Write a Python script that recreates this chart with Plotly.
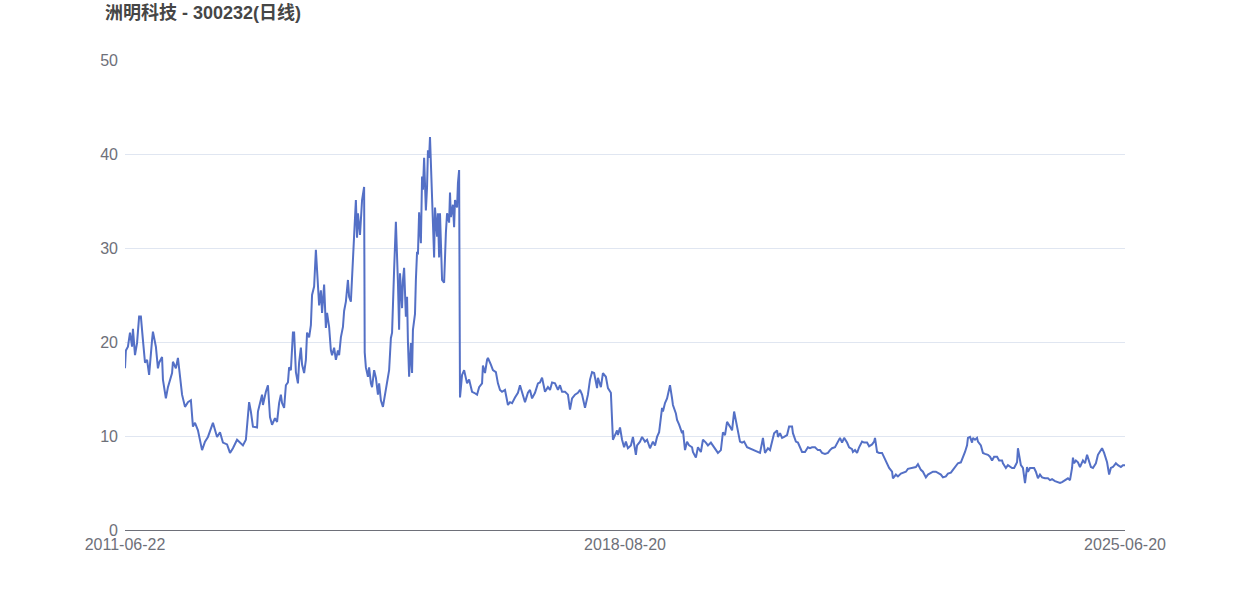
import plotly.graph_objects as go

title_text = "洲明科技 - 300232(日线)"
tick_dates = ["2011-06-22", "2018-08-20", "2025-06-20"]
tick_days = [0, 1700, 3400]

day_index = [
    0, 3, 10, 17, 24, 27, 34, 41, 48, 54, 61, 68, 75, 82, 92, 95, 105, 112, 116, 126,
    129, 139, 146, 160, 163, 173, 180, 187, 194, 204, 214, 224, 231, 238, 248, 262, 272, 282, 299, 313,
    323, 333, 347, 357, 367, 381, 391, 401, 411, 418, 422, 428, 435, 449, 452, 466, 469, 479, 486, 493,
    500, 510, 517, 524, 530, 534, 541, 547, 554, 558, 564, 571, 575, 581, 588, 592, 598, 602, 609, 615,
    619, 626, 632, 636, 643, 649, 653, 660, 666, 670, 677, 683, 687, 694, 700, 704, 711, 717, 724, 728,
    734, 741, 745, 751, 758, 762, 768, 775, 785, 789, 792, 799, 802, 806, 813, 815, 819, 826, 830, 836,
    840, 847, 853, 860, 864, 870, 877, 881, 887, 894, 898, 904, 908, 915, 918, 921, 928, 932, 935, 942,
    945, 949, 955, 959, 962, 966, 972, 976, 979, 986, 989, 993, 996, 1000, 1006, 1010, 1013, 1017, 1023, 1027,
    1030, 1034, 1037, 1040, 1044, 1047, 1051, 1054, 1061, 1064, 1068, 1071, 1074, 1078, 1085, 1088, 1091, 1095, 1102, 1105,
    1108, 1115, 1119, 1122, 1129, 1132, 1136, 1139, 1146, 1153, 1163, 1170, 1180, 1187, 1197, 1204, 1214, 1217, 1224, 1231,
    1234, 1244, 1251, 1261, 1268, 1275, 1282, 1292, 1302, 1309, 1316, 1326, 1336, 1343, 1350, 1360, 1370, 1377, 1384, 1394,
    1404, 1411, 1418, 1428, 1438, 1445, 1452, 1462, 1472, 1479, 1486, 1496, 1506, 1513, 1520, 1530, 1540, 1547, 1554, 1564,
    1574, 1581, 1588, 1595, 1605, 1608, 1618, 1625, 1635, 1642, 1652, 1656, 1659, 1666, 1673, 1676, 1683, 1690, 1697, 1703,
    1710, 1720, 1727, 1737, 1741, 1751, 1758, 1768, 1775, 1785, 1795, 1802, 1809, 1816, 1826, 1829, 1836, 1843, 1846, 1853,
    1860, 1863, 1873, 1877, 1884, 1894, 1897, 1904, 1911, 1918, 1928, 1931, 1941, 1948, 1958, 1965, 1975, 1982, 1992, 1999,
    2009, 2016, 2026, 2033, 2040, 2047, 2057, 2064, 2071, 2081, 2084, 2091, 2098, 2105, 2115, 2122, 2132, 2139, 2149, 2159,
    2166, 2169, 2176, 2186, 2193, 2200, 2207, 2217, 2220, 2227, 2234, 2241, 2251, 2258, 2268, 2271, 2281, 2288, 2295, 2302,
    2312, 2322, 2329, 2336, 2346, 2356, 2363, 2370, 2380, 2390, 2397, 2404, 2414, 2424, 2431, 2438, 2445, 2455, 2462, 2472,
    2475, 2482, 2489, 2496, 2506, 2513, 2523, 2530, 2540, 2547, 2550, 2557, 2564, 2574, 2581, 2591, 2598, 2608, 2611, 2621,
    2628, 2638, 2645, 2655, 2662, 2672, 2679, 2689, 2696, 2706, 2713, 2723, 2730, 2740, 2747, 2757, 2764, 2774, 2781, 2791,
    2798, 2808, 2815, 2825, 2832, 2842, 2849, 2856, 2863, 2866, 2873, 2880, 2883, 2890, 2897, 2900, 2910, 2917, 2924, 2934,
    2941, 2948, 2955, 2965, 2972, 2982, 2985, 2995, 3002, 3009, 3016, 3023, 3033, 3036, 3040, 3046, 3053, 3060, 3067, 3070,
    3077, 3084, 3091, 3097, 3104, 3111, 3118, 3128, 3138, 3145, 3152, 3162, 3172, 3179, 3186, 3196, 3206, 3213, 3220, 3223,
    3227, 3233, 3240, 3247, 3254, 3257, 3264, 3271, 3274, 3284, 3291, 3301, 3308, 3315, 3322, 3329, 3339, 3346, 3352, 3359,
    3369, 3376, 3386, 3393, 3400,
]

close_price = [
    17.2, 19.1, 19.5, 21.0, 19.5, 21.4, 18.6, 19.9, 22.7, 22.7, 20.2, 17.8, 18.1, 16.5, 20.2, 21.1, 19.5, 17.2, 17.8, 18.4,
    16.0, 14.0, 15.2, 16.7, 17.9, 17.2, 18.3, 16.3, 14.4, 13.1, 13.6, 13.8, 11.0, 11.4, 10.6, 8.5, 9.4, 9.9, 11.4, 9.9,
    10.4, 9.3, 9.1, 8.2, 8.7, 9.6, 9.3, 9.0, 9.6, 12.0, 13.6, 12.6, 11.0, 10.9, 12.6, 14.4, 13.3, 14.7, 15.4, 12.0,
    11.2, 11.9, 11.5, 13.5, 14.4, 13.5, 13.0, 15.4, 15.7, 17.3, 17.0, 21.0, 21.0, 16.8, 15.6, 17.8, 19.4, 17.6, 16.7, 18.1,
    21.0, 20.5, 21.8, 25.0, 25.9, 29.8, 27.7, 23.9, 25.5, 23.1, 26.1, 21.5, 23.1, 21.6, 19.1, 18.6, 19.4, 18.1, 19.1, 18.6,
    20.5, 21.6, 23.3, 24.3, 26.6, 24.8, 24.3, 28.4, 35.1, 31.1, 33.7, 31.4, 33.8, 35.1, 36.5, 18.9, 17.3, 16.3, 17.3, 15.6,
    15.2, 17.0, 16.2, 14.4, 15.6, 13.8, 13.1, 13.8, 15.2, 16.2, 17.0, 20.4, 21.0, 27.7, 30.9, 32.8, 26.3, 21.3, 27.3, 23.6,
    26.6, 27.9, 22.7, 24.8, 20.0, 16.3, 19.9, 16.7, 21.3, 23.0, 26.6, 29.6, 29.3, 33.8, 30.5, 37.6, 36.2, 39.6, 34.0, 36.5,
    40.4, 39.6, 41.8, 39.0, 35.1, 33.0, 29.0, 34.3, 31.2, 33.7, 29.0, 33.7, 31.2, 26.6, 26.3, 29.5, 31.6, 33.7, 32.7, 35.9,
    33.3, 34.6, 32.2, 35.1, 34.3, 36.9, 38.3, 14.1, 16.5, 17.0, 15.6, 16.0, 14.7, 14.6, 14.4, 15.2, 15.6, 17.5, 16.7, 18.1,
    18.3, 17.6, 17.0, 16.8, 15.6, 14.9, 14.7, 14.9, 13.3, 13.6, 13.5, 14.1, 14.6, 15.4, 14.7, 13.6, 14.6, 14.9, 14.0, 14.6,
    15.6, 15.7, 16.2, 14.7, 15.2, 14.9, 15.7, 15.6, 14.9, 15.4, 14.7, 14.7, 14.4, 12.8, 14.0, 14.4, 14.6, 14.9, 14.4, 13.0,
    14.4, 16.0, 16.8, 16.7, 15.1, 16.2, 15.2, 16.7, 16.3, 15.1, 14.6, 11.7, 9.6, 10.1, 10.6, 10.1, 10.9, 9.6, 8.8, 9.4,
    8.7, 9.0, 9.9, 8.0, 9.0, 9.4, 9.9, 9.4, 9.6, 8.7, 9.4, 9.0, 9.9, 10.4, 13.0, 12.6, 13.5, 14.0, 14.4, 15.4,
    14.0, 13.3, 12.4, 11.7, 11.2, 10.3, 10.6, 8.5, 9.4, 9.0, 8.8, 8.3, 7.7, 8.8, 8.3, 9.6, 9.3, 9.0, 9.3, 9.0,
    8.5, 8.2, 8.5, 10.4, 10.1, 11.5, 11.0, 10.6, 12.6, 11.0, 10.3, 9.4, 9.3, 9.4, 8.8, 8.7, 8.5, 8.4, 8.3, 8.2,
    9.3, 9.8, 8.2, 8.7, 8.5, 9.6, 10.3, 10.6, 9.9, 10.3, 9.8, 9.9, 10.1, 11.0, 11.0, 10.3, 9.4, 9.3, 8.8, 8.3,
    8.3, 8.8, 8.7, 8.8, 8.8, 8.5, 8.5, 8.2, 8.1, 8.2, 8.5, 8.7, 8.8, 9.4, 9.8, 9.3, 9.8, 9.3, 8.8, 8.6,
    8.3, 8.5, 8.2, 8.8, 9.4, 9.3, 9.3, 8.9, 9.1, 9.4, 9.8, 8.3, 8.2, 8.2, 7.7, 7.1, 6.6, 6.2, 5.5, 5.9,
    5.7, 6.0, 6.1, 6.2, 6.5, 6.6, 6.6, 6.7, 7.0, 6.4, 6.2, 5.6, 5.9, 6.1, 6.2, 6.2, 6.1, 5.9, 5.6, 5.7,
    6.0, 6.1, 6.4, 6.9, 7.1, 7.2, 7.7, 8.3, 9.0, 9.8, 9.9, 9.3, 9.8, 9.6, 9.8, 9.4, 9.0, 8.2, 8.1, 8.0,
    7.8, 7.4, 7.8, 7.8, 7.4, 7.4, 7.1, 6.6, 6.9, 6.7, 6.6, 6.6, 7.2, 8.7, 7.8, 6.9, 6.6, 5.0, 6.7, 6.2,
    6.6, 6.6, 6.6, 6.2, 5.5, 5.9, 5.6, 5.5, 5.5, 5.3, 5.4, 5.2, 5.1, 5.0, 5.1, 5.3, 5.5, 5.3, 6.6, 7.7,
    7.1, 7.4, 7.2, 6.7, 7.2, 7.4, 7.1, 8.0, 7.7, 6.7, 6.6, 7.1, 8.0, 8.3, 8.7, 8.2, 7.2, 5.9, 6.6, 6.7,
    7.1, 6.9, 6.7, 6.9, 6.9,
]

font_family = "Liberation Sans, Arial, Noto Sans CJK SC, sans-serif"

fig = go.Figure()
fig.add_trace(go.Scatter(
    x=day_index,
    y=close_price,
    mode="lines",
    line=dict(color="#5470c6", width=2),
    hoverinfo="skip",
    showlegend=False,
))

fig.update_layout(
    width=1250,
    height=600,
    margin=dict(l=125, r=125, t=60, b=70),
    paper_bgcolor="white",
    plot_bgcolor="white",
    font=dict(family=font_family, size=16, color="#6e7079"),
    title=dict(
        text="<b>" + title_text + "</b>",
        x=105 / 1250,
        xref="container",
        xanchor="left",
        y=1 - 13 / 600,
        yref="container",
        yanchor="middle",
        font=dict(family="Liberation Sans, Noto Sans CJK SC, sans-serif", size=18, color="#464646"),
    ),
    xaxis=dict(
        range=[0, 3400],
        tickmode="array",
        tickvals=tick_days,
        ticktext=tick_dates,
        showgrid=False,
        zeroline=False,
        showline=True,
        linecolor="#6e7079",
        linewidth=1,
        ticks="",
        ticklabelstandoff=0,
        tickfont=dict(size=16, color="#6e7079"),
    ),
    yaxis=dict(
        range=[0, 50],
        tickvals=[0, 10, 20, 30, 40, 50],
        showgrid=True,
        gridcolor="#e0e6f1",
        gridwidth=1,
        zeroline=False,
        showline=False,
        ticks="",
        ticklabelstandoff=6,
        tickfont=dict(size=16, color="#6e7079"),
    ),
)

fig.write_html(
    "out.html",
    config={"displayModeBar": False},
    post_script="document.body.style.margin='0';",
)
